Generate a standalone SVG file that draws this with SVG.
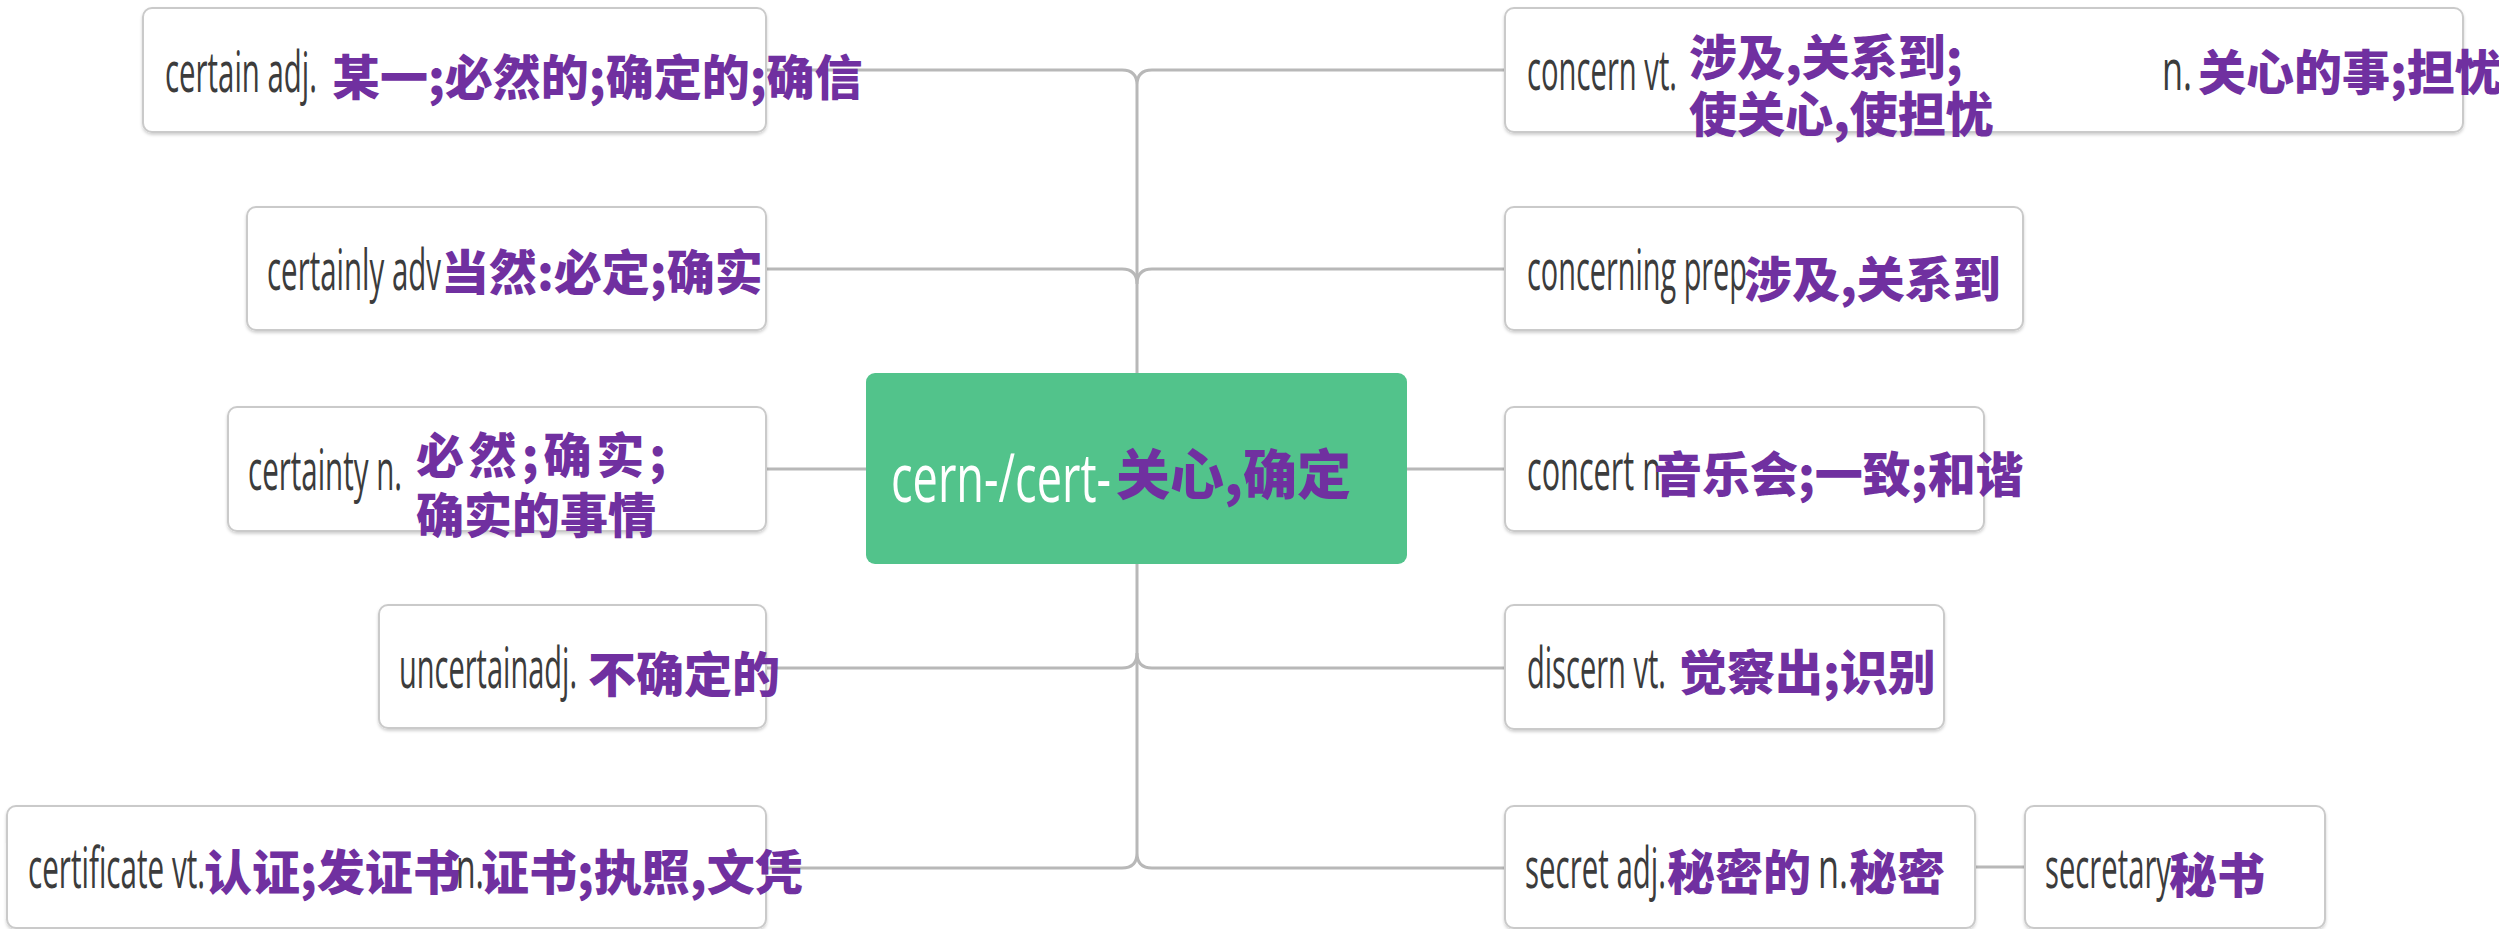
<svg xmlns="http://www.w3.org/2000/svg" width="2499" height="929" viewBox="0 0 2499 929">
<style>
.bg{fill:#ffffff}
.box{fill:#ffffff;stroke:#cacaca;stroke-width:2}
.root{fill:#52c38b}
.en{font-family:"Open Sans","Liberation Sans",sans-serif;font-size:57px;fill:#3c3c3c}
.zh{font-family:"Noto Sans CJK SC","Noto Sans",sans-serif;font-size:48px;font-weight:900;fill:#7030a0}
.rt{font-family:"Open Sans","Liberation Sans",sans-serif;font-size:68px;fill:#ffffff}
.rz{font-family:"Noto Sans CJK SC","Noto Sans",sans-serif;font-size:54px;font-weight:900;fill:#7030a0}
.ln{fill:none;stroke:#b8b8b8;stroke-width:3}
</style>
<defs>
<filter id="sh" x="-5%" y="-10%" width="110%" height="125%">
<feDropShadow dx="0" dy="2" stdDeviation="1.5" flood-color="#000000" flood-opacity="0.18"/>
</filter>
</defs>
<rect class="bg" x="0" y="0" width="2499" height="929"/>
<g id="connectors">
<path class="ln" d="M1137,85 V853"/>
<path class="ln" d="M766,70 H1122 Q1137,70 1137,85 Q1137,70 1152,70 H1505"/>
<path class="ln" d="M766,269 H1122 Q1137,269 1137,284 Q1137,269 1152,269 H1505"/>
<path class="ln" d="M766,469 H866"/>
<path class="ln" d="M1407,469 H1505"/>
<path class="ln" d="M766,668 H1122 Q1137,668 1137,653 Q1137,668 1152,668 H1505"/>
<path class="ln" d="M766,868 H1122 Q1137,868 1137,853 Q1137,868 1152,868 H1505"/>
<path class="ln" d="M1975,867 H2025"/>
</g>
<g id="node-certain">
<rect class="box" filter="url(#sh)" x="143" y="8" width="623" height="124" rx="9"/>
<text class="en" x="165" y="92" textLength="152" lengthAdjust="spacingAndGlyphs">certain adj.</text>
<text class="zh" x="332" y="95">某一;必然的;确定的;确信</text>
</g>
<g id="node-certainly">
<rect class="box" filter="url(#sh)" x="247" y="207" width="519" height="123" rx="9"/>
<text class="en" x="267" y="290" textLength="174" lengthAdjust="spacingAndGlyphs">certainly adv</text>
<text class="zh" x="441" y="290">当然:必定;确实</text>
</g>
<g id="node-certainty">
<rect class="box" filter="url(#sh)" x="228" y="407" width="538" height="124" rx="9"/>
<text class="en" x="248" y="490" textLength="154" lengthAdjust="spacingAndGlyphs">certainty n.</text>
<text class="zh" x="416" y="473" textLength="250">必然;确实;</text>
<text class="zh" x="416" y="533">确实的事情</text>
</g>
<g id="node-uncertain">
<rect class="box" filter="url(#sh)" x="379" y="605" width="387" height="123" rx="9"/>
<text class="en" x="399" y="688" textLength="178" lengthAdjust="spacingAndGlyphs">uncertainadj.</text>
<text class="zh" x="588" y="692">不确定的</text>
</g>
<g id="node-certificate">
<rect class="box" filter="url(#sh)" x="7" y="806" width="759" height="122" rx="9"/>
<text class="en" x="28" y="888" textLength="177" lengthAdjust="spacingAndGlyphs">certificate vt.</text>
<text class="zh" x="204" y="890">认证;发证书</text>
<text class="en" x="456" y="888" textLength="28" lengthAdjust="spacingAndGlyphs">n.</text>
<text class="zh" x="481" y="890">证书;执照,文凭</text>
</g>
<g id="node-root">
<rect class="root" x="866" y="373" width="541" height="191" rx="9"/>
<text class="rt" x="891" y="502" textLength="220" lengthAdjust="spacingAndGlyphs">cern-/cert-</text>
<text class="rz" x="1116" y="495">关心,确定</text>
</g>
<g id="node-concern">
<rect class="box" filter="url(#sh)" x="1505" y="8" width="958" height="124" rx="9"/>
<text class="en" x="1527" y="90" textLength="150" lengthAdjust="spacingAndGlyphs">concern vt.</text>
<text class="zh" x="1689" y="75">涉及,关系到;</text>
<text class="zh" x="1689" y="132">使关心,使担忧</text>
<text class="en" x="2162" y="90" textLength="30" lengthAdjust="spacingAndGlyphs">n.</text>
<text class="zh" x="2198" y="90">关心的事;担忧</text>
</g>
<g id="node-concerning">
<rect class="box" filter="url(#sh)" x="1505" y="207" width="518" height="123" rx="9"/>
<text class="en" x="1527" y="290" textLength="220" lengthAdjust="spacingAndGlyphs">concerning prep</text>
<text class="zh" x="1744" y="297">涉及,关系到</text>
</g>
<g id="node-concert">
<rect class="box" filter="url(#sh)" x="1505" y="407" width="479" height="124" rx="9"/>
<text class="en" x="1527" y="490" textLength="142" lengthAdjust="spacingAndGlyphs">concert n.</text>
<text class="zh" x="1654" y="492">音乐会;一致;和谐</text>
</g>
<g id="node-discern">
<rect class="box" filter="url(#sh)" x="1505" y="605" width="439" height="124" rx="9"/>
<text class="en" x="1527" y="688" textLength="139" lengthAdjust="spacingAndGlyphs">discern vt.</text>
<text class="zh" x="1679" y="690">觉察出;识别</text>
</g>
<g id="node-secret">
<rect class="box" filter="url(#sh)" x="1505" y="806" width="470" height="122" rx="9"/>
<text class="en" x="1525" y="888" textLength="141" lengthAdjust="spacingAndGlyphs">secret adj.</text>
<text class="zh" x="1667" y="890">秘密的</text>
<text class="en" x="1818" y="888" textLength="30" lengthAdjust="spacingAndGlyphs">n.</text>
<text class="zh" x="1849" y="890">秘密</text>
</g>
<g id="node-secretary">
<rect class="box" filter="url(#sh)" x="2025" y="806" width="300" height="122" rx="9"/>
<text class="en" x="2045" y="888" textLength="126" lengthAdjust="spacingAndGlyphs">secretary</text>
<text class="zh" x="2169" y="893">秘书</text>
</g>
</svg>
